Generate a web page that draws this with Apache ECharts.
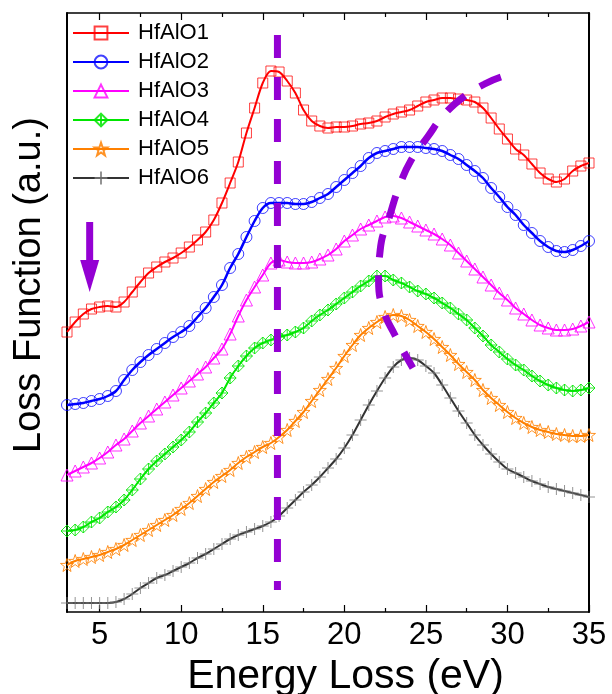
<!DOCTYPE html>
<html>
<head>
<meta charset="utf-8">
<script src="https://cdn.jsdelivr.net/npm/echarts@6/dist/echarts.min.js"></script>
<style>
  html, body { margin: 0; padding: 0; background: #fff; }
  #chart { width: 612px; height: 694px; }
</style>
</head>
<body>
<div id="chart"></div>
<script>
// Energy loss (eV)
const energy = [3,3.5,4,4.5,5,5.5,6,6.5,7,7.5,8,8.5,9,9.5,10,10.5,11,11.5,12,12.5,
  13,13.5,14,14.5,15,15.5,16,16.5,17,17.5,18,18.5,19,19.5,20,20.5,21,21.5,22,22.5,
  23,23.5,24,24.5,25,25.5,26,26.5,27,27.5,28,28.5,29,29.5,30,30.5,31,31.5,32,32.5,
  33,33.5,34,34.5,35];

// Loss function (a.u., curves offset vertically as in the figure)
const hfalo1 = [280,290,298,303,305,306,305,310,320,330,339,345,350,354,359,365,372,380,392,409,
  429,450,479,504,529,541,540,531,519,502,491,486,484,485,485,486,488,489,491,495,
  498,500,502,506,510,512,514,514,513,512,510,504,494,483,473,463,457,448,439,433,
  430,433,441,446,449];
const hfalo2 = [207,208,209,211,213,216,221,232,242,250,257,263,269,275,280,286,295,304,315,327,
  344,358,375,391,404,409,409,409,408,408,410,414,418,425,432,439,446,454,459,461,
  463,465,465,465,464,463,461,457,453,447,441,434,424,415,405,397,387,379,371,365,
  361,360,362,366,371];
const hfalo3 = [137,141,145,149,154,160,167,173,181,189,196,203,210,217,224,231,238,245,254,263,
  278,296,312,325,337,349,352,350,349,349,350,353,357,363,371,377,383,387,391,395,
  396,394,390,386,382,378,373,367,359,351,343,335,327,319,312,304,298,292,287,284,
  282,282,283,286,290];
const hfalo4 = [81,82,85,90,94,100,105,112,122,133,143,151,158,165,172,180,190,199,209,219,
  234,246,256,264,269,272,275,277,280,284,291,297,302,308,314,320,326,331,336,336,
  332,329,325,321,318,314,309,304,298,292,284,276,267,260,253,247,242,236,231,227,
  224,222,221,222,224];
const hfalo5 = [47,51,53,55,57,60,63,67,72,77,82,87,92,97,103,109,116,123,130,136,
  142,149,155,160,165,169,175,182,191,200,211,222,233,244,256,267,277,284,290,295,
  297,296,292,286,280,273,265,257,248,240,232,222,214,207,200,194,189,185,182,180,
  178,177,176,176,177];
const hfalo6 = [9,9,9,9,9,9,10,13,18,24,29,34,37,41,45,49,54,58,63,68,
  73,77,80,83,86,90,96,104,112,120,127,135,144,153,164,177,192,207,221,234,
  245,252,254,252,246,239,227,214,201,189,177,167,158,150,143,139,135,131,128,125,
  123,121,119,117,115];

const seriesNames = ['HfAlO1','HfAlO2','HfAlO3','HfAlO4','HfAlO5','HfAlO6'];
const xMajorTicks = [5,10,15,20,25,30,35];
const xMinorTicks = [7.5,12.5,17.5,22.5,27.5,32.5];
const xTitle = 'Energy Loss (eV)';
const yTitle = 'Loss Function (a.u.)';

// Guide lines (annotations)
const vGuideX = [15.9, 15.9];
const vGuideY = [577, 22];
const arcX = [29.6, 28.6, 27.3, 26.1, 25.1, 24.1, 23.4, 22.8, 22.2, 22.1, 22.4, 23.1, 24.2];
const arcY = [535, 528, 515, 497, 475, 452, 427, 397, 362, 332, 302, 277, 244];
const arrowX = 4.39, arrowTop = 390, arrowBottom = 320;

const FONT = "'Liberation Sans', Arial, Helvetica, sans-serif";
const PURPLE = '#9400D3';

const styles = [
  {line: '#FF0000', mark: 'rgba(255,0,0,0.75)', symbol: 'rect', size: 10, lw: 2},
  {line: '#0000FF', mark: 'rgba(0,0,255,0.75)', symbol: 'circle', size: 11, lw: 2.5},
  {line: '#FF00FF', mark: 'rgba(255,0,255,0.8)', symbol: 'triangle', size: 12, lw: 2},
  {line: '#00E600', mark: 'rgba(0,230,0,0.85)', symbol: 'path://M0,-1L1,0L0,1L-1,0Z M0,-1L0,1 M-1,0L1,0', size: 12, lw: 2},
  {line: '#FF8000', mark: 'rgba(255,128,0,0.85)', symbol: 'path://M0,-1 L0.235,-0.324 L0.951,-0.309 L0.380,0.124 L0.588,0.809 L0,0.4 L-0.588,0.809 L-0.380,0.124 L-0.951,-0.309 L-0.235,-0.324 Z', size: 13, lw: 2},
  {line: '#333333', mark: 'rgba(120,120,120,0.8)', symbol: 'path://M0,-1L0,1M-1,0L1,0', size: 12, lw: 2}
];
const values = [hfalo1, hfalo2, hfalo3, hfalo4, hfalo5, hfalo6];

const dataSeries = values.map((arr, k) => ({
  name: seriesNames[k],
  type: 'line',
  xAxisIndex: 0, yAxisIndex: 0,
  smooth: 0.3,
  data: energy.map((x, i) => [x, arr[i]]),
  symbol: styles[k].symbol,
  symbolSize: styles[k].size,
  showAllSymbol: true,
  lineStyle: {color: styles[k].line, width: styles[k].lw},
  itemStyle: {color: 'rgba(0,0,0,0)', borderColor: styles[k].mark, borderWidth: 1},
  emphasis: {disabled: true},
  z: 3
}));

const chart = echarts.init(document.getElementById('chart'), null, {renderer: 'canvas'});

const baseX = {type: 'value', min: 3, max: 35, gridIndex: 0, splitLine: {show: false}};

chart.setOption({
  animation: false,
  backgroundColor: '#fff',
  grid: {left: 67, right: 23, top: 13, bottom: 82, containLabel: false, outerBoundsMode: 'none'},
  legend: {
    orient: 'vertical', left: 72, top: 22, padding: 0,
    itemWidth: 56, itemHeight: 16, itemGap: 7,
    textStyle: {fontFamily: FONT, fontSize: 22, color: '#000', lineHeight: 22, padding: [0,0,0,4]},
    data: seriesNames
  },
  xAxis: [
    Object.assign({}, baseX, {
      position: 'bottom',
      name: xTitle, nameLocation: 'middle', nameGap: 34,
      nameTextStyle: {fontFamily: FONT, fontSize: 41, color: '#000', padding: [0,0,0,35]},
      axisLine: {show: true, lineStyle: {color: '#000', width: 1.5}},
      axisTick: {show: true, inside: true, length: 7, customValues: xMajorTicks, lineStyle: {color: '#000', width: 1.2}},
      axisLabel: {show: true, customValues: xMajorTicks, fontFamily: FONT, fontSize: 31, color: '#000', margin: 8}
    }),
    Object.assign({}, baseX, {
      position: 'bottom',
      axisLine: {show: false},
      axisTick: {show: true, inside: true, length: 4, customValues: xMinorTicks, lineStyle: {color: '#000', width: 1.2}},
      axisLabel: {show: false}
    }),
    Object.assign({}, baseX, {
      position: 'top',
      axisLine: {show: true, lineStyle: {color: '#000', width: 1.5}},
      axisTick: {show: true, inside: true, length: 7, customValues: xMajorTicks, lineStyle: {color: '#000', width: 1.2}},
      axisLabel: {show: false}
    }),
    Object.assign({}, baseX, {
      position: 'top',
      axisLine: {show: false},
      axisTick: {show: true, inside: true, length: 4, customValues: xMinorTicks, lineStyle: {color: '#000', width: 1.2}},
      axisLabel: {show: false}
    })
  ],
  yAxis: [
    {
      type: 'value', min: 0, max: 599, position: 'left',
      axisLine: {show: true, lineStyle: {color: '#000', width: 2}},
      axisTick: {show: false}, axisLabel: {show: false}, splitLine: {show: false}
    },
    {
      type: 'value', min: 0, max: 599, position: 'right',
      axisLine: {show: true, lineStyle: {color: '#000', width: 2}},
      axisTick: {show: false}, axisLabel: {show: false}, splitLine: {show: false}
    }
  ],
  series: dataSeries.concat([
    {
      type: 'line', name: 'guide1', xAxisIndex: 0, yAxisIndex: 0,
      data: vGuideX.map((x, i) => [x, vGuideY[i]]),
      symbol: 'none', silent: true,
      lineStyle: {color: PURPLE, width: 7, type: [23, 19]}, z: 5
    },
    {
      type: 'line', name: 'guide2', xAxisIndex: 0, yAxisIndex: 0,
      data: arcX.map((x, i) => [x, arcY[i]]),
      symbol: 'none', smooth: 0.5, silent: true,
      lineStyle: {color: PURPLE, width: 7, type: [23, 18]}, z: 5
    }
  ])
});

// Arrow annotation and y-axis title
const pTop = chart.convertToPixel({xAxisIndex: 0, yAxisIndex: 0}, [arrowX, arrowTop]);
const pBot = chart.convertToPixel({xAxisIndex: 0, yAxisIndex: 0}, [arrowX, arrowBottom]);
const headH = 32, headW = 19, shaftW = 7;
chart.setOption({
  graphic: [
    {type: 'rect', shape: {x: pTop[0] - shaftW / 2, y: pTop[1], width: shaftW, height: (pBot[1] - pTop[1]) - headH + 2},
     style: {fill: PURPLE}, z: 10},
    {type: 'polygon', shape: {points: [[pBot[0] - headW / 2, pBot[1] - headH], [pBot[0] + headW / 2, pBot[1] - headH], [pBot[0], pBot[1]]]},
     style: {fill: PURPLE}, z: 10},
    {type: 'text', x: 30, y: 285, rotation: Math.PI / 2,
     style: {text: yTitle, font: "38px 'Liberation Sans', Arial, sans-serif", fill: '#000', align: 'center', verticalAlign: 'middle'}, z: 10}
  ]
});
</script>
</body>
</html>
